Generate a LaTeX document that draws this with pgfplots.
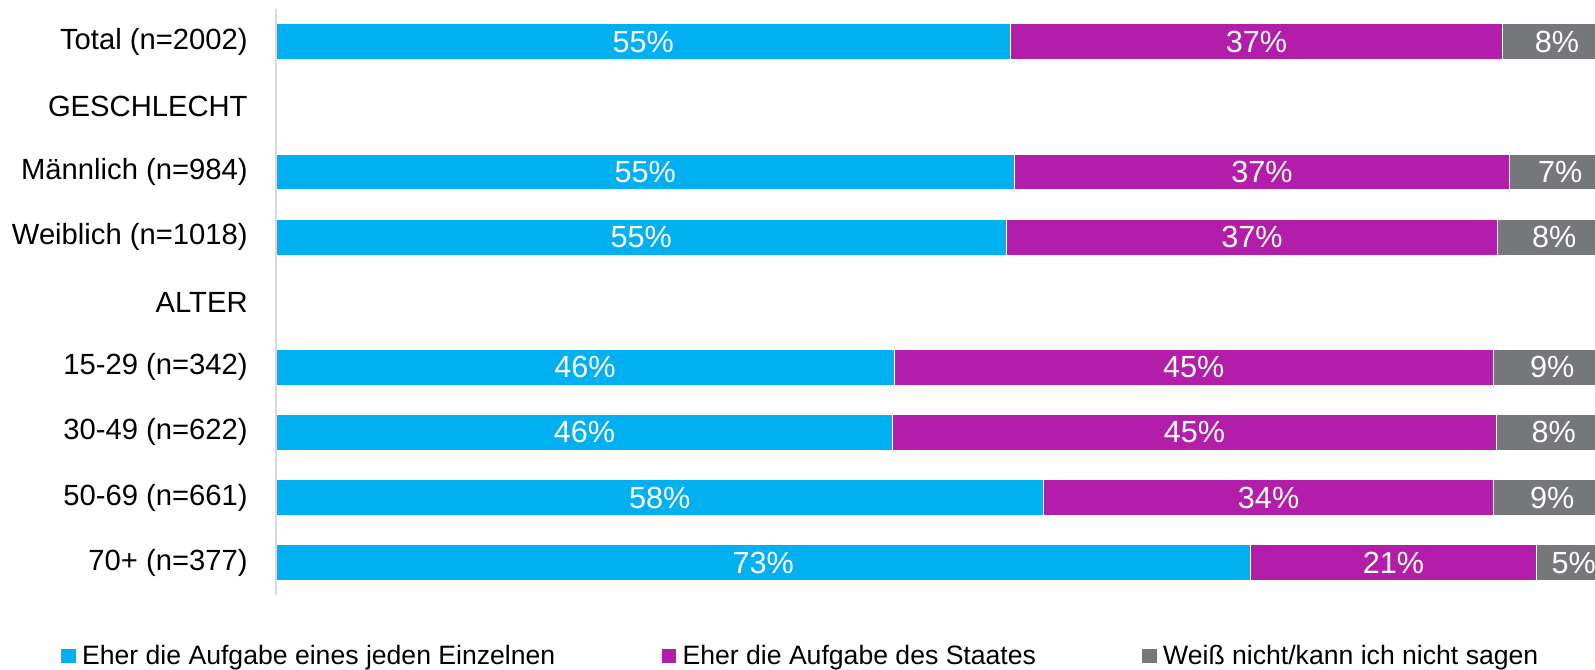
\documentclass[border=0pt]{standalone}
\usepackage{fontspec}
\setmainfont{Liberation Sans}
\usepackage{pgfplots}
\pgfplotsset{compat=1.18}

\definecolor{cBlue}{HTML}{00B0F0}
\definecolor{cMag}{HTML}{B21DAA}
\definecolor{cGrey}{HTML}{76777B}
\definecolor{cAxis}{HTML}{D9D9D9}

% shared geometry of both axes (1px of the reference = 0.5pt)
\pgfplotsset{
  base/.style={
    scale only axis,
    width=659.5pt, height=293pt,
    at={(0pt,0pt)}, anchor=south west,
    xmin=0, xmax=98.8,
    ymin=0.5, ymax=9.5,
    y dir=reverse,
  },
}

\begin{document}
\begin{tikzpicture}
\useasboundingbox (-138pt,-37pt) rectangle (659.5pt,297.6pt);
\begin{axis}[
  base,
  xbar stacked,
  bar width=18pt,
  axis x line=none,
  axis y line*=left,
  y axis line style={draw=cAxis, line width=0.6pt},
  ytick={1,...,9},
  yticklabels={Total (n=2002), GESCHLECHT, Männlich (n=984), Weiblich (n=1018), ALTER,
    15-29 (n=342), 30-49 (n=622), 50-69 (n=661), 70+ (n=377)},
  major tick length=0pt,
  yticklabel style={font=\fontsize{14.6}{17}\selectfont, anchor=east, inner sep=0pt, xshift=-14pt},
  axis on top,
  legend columns=3,
  legend style={at={(-0.1638,-0.1041)}, anchor=west, draw=none, fill=none,
    inner sep=0pt, outer sep=0pt, font=\fontsize{13.3}{16}\selectfont,
    nodes={inner sep=0pt}, column sep=0pt,
    /tikz/every even column/.append style={column sep=52.5pt}},
  legend image code/.code={\fill[#1] (0pt,-3.75pt) rectangle (8pt,3.75pt); \path (10.5pt,0pt);},
]
\addplot[fill=cBlue, draw=white, line width=0.6pt] coordinates {
  (55.0,1) (55.3,3) (54.7,4) (46.3,6) (46.2,7) (57.5,8) (73.0,9)};
\addplot[fill=cMag, draw=white, line width=0.6pt] coordinates {
  (36.9,1) (37.1,3) (36.8,4) (44.9,6) (45.2,7) (33.7,8) (21.4,9)};
\addplot[fill=cGrey, draw=white, line width=0.6pt] coordinates {
  (8.1,1) (7.6,3) (8.5,4) (8.8,6) (8.6,7) (8.8,8) (5.6,9)};
\legend{Eher die Aufgabe eines jeden Einzelnen, Eher die Aufgabe des Staates, Weiß nicht/kann ich nicht sagen}
\end{axis}

% segment labels, centred in each segment
\begin{axis}[base, hide axis]
\addplot[only marks, mark=none, point meta=explicit symbolic, nodes near coords,
  nodes near coords style={anchor=center, text=white, font=\fontsize{15.3}{18}\selectfont}]
  coordinates {
  (27.5,1) [55\%]  (73.45,1) [37\%] (95.95,1) [8\%]
  (27.65,3) [55\%] (73.85,3) [37\%] (96.2,3) [7\%]
  (27.35,4) [55\%] (73.1,4) [37\%]  (95.75,4) [8\%]
  (23.15,6) [46\%] (68.75,6) [45\%] (95.6,6) [9\%]
  (23.1,7) [46\%]  (68.8,7) [45\%]  (95.7,7) [8\%]
  (28.75,8) [58\%] (74.35,8) [34\%] (95.6,8) [9\%]
  (36.5,9) [73\%]  (83.7,9) [21\%]  (97.2,9) [5\%]
};
\end{axis}
\end{tikzpicture}
\end{document}
